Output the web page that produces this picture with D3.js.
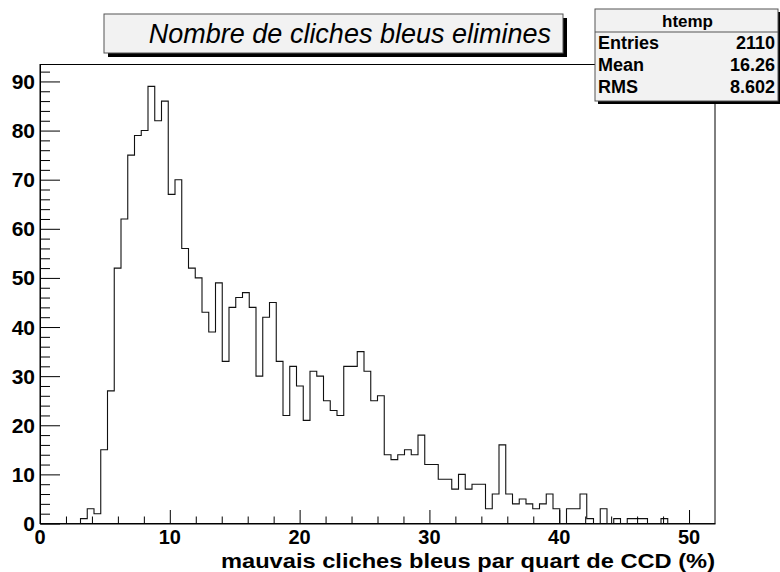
<!DOCTYPE html>
<html>
<head>
<meta charset="utf-8">
<script src="https://cdn.jsdelivr.net/npm/d3@7/dist/d3.min.js"></script>
<style>
  html, body { margin: 0; padding: 0; background: #fff; }
  svg { display: block; }
  text { font-family: "Liberation Sans", Arial, Helvetica, sans-serif; }
</style>
</head>
<body>
<svg id="c" width="780" height="572"></svg>
<script>
// Histogram "htemp": 100 bins between 0 and 52
const xMin = 0, xMax = 52;
const binCounts = [
  0, 0, 0, 0, 0, 0, 1, 3, 2, 15,
  27, 52, 62, 75, 79, 80, 89, 82, 86, 67,
  70, 56, 52, 50, 43, 39, 49, 33, 44, 46,
  47, 44, 30, 42, 45, 33, 22, 32, 28, 21,
  31, 30, 25, 23, 22, 32, 32, 35, 31, 25,
  26, 14, 13, 14, 15, 14, 18, 12, 12, 9,
  9, 7, 10, 7, 8, 8, 3, 6, 16, 6,
  4, 5, 4, 3, 4, 6, 3, 0, 3, 3,
  6, 1, 0, 3, 0, 1, 0, 1, 1, 1,
  0, 0, 1, 0, 0, 0, 0, 0, 0, 0
];
const xTicks = [0, 10, 20, 30, 40, 50];
const yTicks = [0, 10, 20, 30, 40, 50, 60, 70, 80, 90];
const titleText = "Nombre de cliches bleus elimines";
const xAxisTitle = "mauvais cliches bleus par quart de CCD (%)";
const statsName = "htemp";
const statsRows = [["Entries", "2110"], ["Mean", "16.26"], ["RMS", "8.602"]];

const svg = d3.select("#c");
const frame = { left: 40, right: 715, top: 64.5, bottom: 523.5 };
const nBins = binCounts.length;
const binW = (xMax - xMin) / nBins;
const yMax = d3.max(binCounts) * 1.05;

const x = d3.scaleLinear().domain([xMin, xMax]).range([frame.left, frame.right]);
const y = d3.scaleLinear().domain([0, yMax]).range([frame.bottom, frame.top]);

// plot frame
svg.append("rect")
  .attr("x", frame.left).attr("y", frame.top)
  .attr("width", frame.right - frame.left).attr("height", frame.bottom - frame.top)
  .attr("fill", "none").attr("stroke", "#000").attr("stroke-width", 1);

// histogram outline
const pts = [[xMin, 0]];
binCounts.forEach((v, i) => {
  pts.push([xMin + i * binW, v]);
  pts.push([xMin + (i + 1) * binW, v]);
});
pts.push([xMax, 0]);
svg.append("path")
  .attr("d", d3.line().x(d => x(d[0])).y(d => y(d[1]))(pts))
  .attr("fill", "none").attr("stroke", "#111").attr("stroke-width", 1.1);

// x axis: ticks drawn inward
const xAxis = d3.axisTop(x)
  .tickValues(d3.range(0, 53, 2))
  .tickSize(0).tickFormat("");
const gx = svg.append("g").attr("transform", `translate(0,${frame.bottom})`).call(xAxis);
gx.select(".domain").attr("stroke", "#000");
gx.selectAll(".tick line")
  .attr("y2", d => (d % 10 === 0 ? -13.5 : -7))
  .attr("stroke", "#000");
gx.selectAll(".tick").filter(d => d === 52).remove();
svg.append("g").selectAll("text").data(xTicks).join("text")
  .attr("x", d => x(d)).attr("y", frame.bottom + 20.5)
  .attr("text-anchor", "middle")
  .attr("font-weight", "bold").attr("font-size", 20)
  .text(d => d);

// y axis
const yAxis = d3.axisRight(y).tickValues(d3.range(0, 93, 2)).tickSize(0).tickFormat("");
const gy = svg.append("g").attr("transform", `translate(${frame.left},0)`).call(yAxis);
gy.select(".domain").attr("stroke", "#000");
gy.selectAll(".tick line")
  .attr("x2", d => (d % 10 === 0 ? 20 : 10))
  .attr("stroke", "#000");
svg.append("g").selectAll("text").data(yTicks).join("text")
  .attr("x", frame.left - 5).attr("y", d => y(d))
  .attr("dy", "0.36em")
  .attr("text-anchor", "end")
  .attr("font-weight", "bold").attr("font-size", 21)
  .text(d => d);

// x axis title
svg.append("text")
  .attr("x", frame.right).attr("y", 567.5)
  .attr("text-anchor", "end")
  .attr("font-weight", "bold").attr("font-size", 21)
  .attr("textLength", 494).attr("lengthAdjust", "spacingAndGlyphs")
  .text(xAxisTitle);

// title box with shadow
const tb = { x: 104, y: 14, w: 459, h: 39 };
svg.append("rect").attr("x", tb.x + 4).attr("y", tb.y + 4).attr("width", tb.w).attr("height", tb.h).attr("fill", "#000");
svg.append("rect").attr("x", tb.x).attr("y", tb.y).attr("width", tb.w).attr("height", tb.h)
  .attr("fill", "#f2f2f2").attr("stroke", "#555").attr("stroke-width", 1);
svg.append("text")
  .attr("x", tb.x + tb.w - 12).attr("y", tb.y + 28.5)
  .attr("text-anchor", "end")
  .attr("font-style", "italic").attr("font-size", 27)
  .text(titleText);

// statistics box
const sb = { x: 595, y: 9, w: 183, h: 92 };
svg.append("rect").attr("x", sb.x + 3).attr("y", sb.y + 3).attr("width", sb.w).attr("height", sb.h).attr("fill", "#000");
svg.append("rect").attr("x", sb.x).attr("y", sb.y).attr("width", sb.w).attr("height", sb.h)
  .attr("fill", "#f2f2f2").attr("stroke", "#555").attr("stroke-width", 1);
svg.append("line").attr("x1", sb.x).attr("x2", sb.x + sb.w).attr("y1", sb.y + 23).attr("y2", sb.y + 23)
  .attr("stroke", "#555");
svg.append("text")
  .attr("x", sb.x + sb.w / 2 + 1).attr("y", sb.y + 18)
  .attr("text-anchor", "middle").attr("font-weight", "bold").attr("font-size", 17)
  .text(statsName);
statsRows.forEach((r, i) => {
  const by = sb.y + 40 + i * 22;
  svg.append("text").attr("x", sb.x + 3).attr("y", by)
    .attr("font-weight", "bold").attr("font-size", 18).text(r[0]);
  svg.append("text").attr("x", sb.x + sb.w - 3).attr("y", by)
    .attr("text-anchor", "end").attr("font-weight", "bold").attr("font-size", 18).text(r[1]);
});
</script>
</body>
</html>
